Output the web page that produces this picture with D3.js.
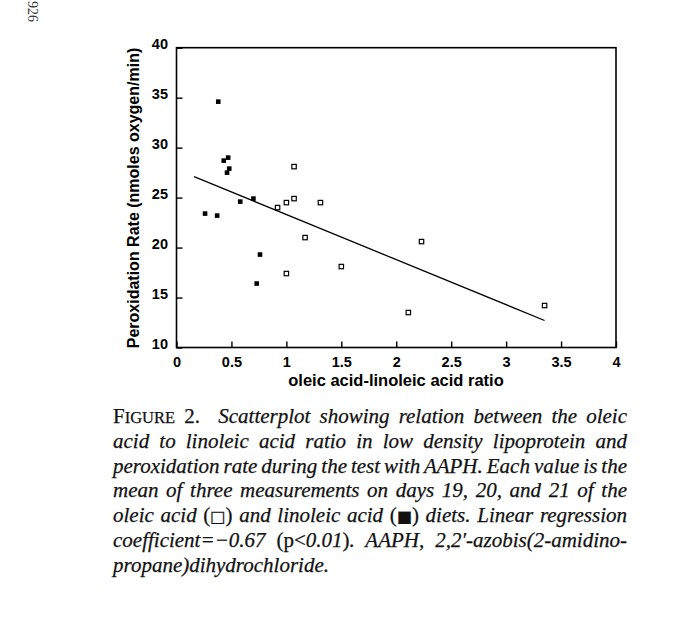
<!DOCTYPE html>
<html>
<head>
<meta charset="utf-8">
<script src="https://cdn.jsdelivr.net/npm/d3@7"></script>
<style>
  html, body { margin: 0; padding: 0; background: #fff; }
  svg { display: block; }
</style>
</head>
<body>
<div class="canvas"></div>
<script>
// data
const linoleicX = [0.38, 0.43, 0.47, 0.46, 0.48, 0.58, 0.70, 0.26, 0.37, 0.76, 0.73];
const linoleicY = [34.6, 28.7, 29.0, 27.5, 27.9, 24.6, 24.9, 23.4, 23.2, 19.3, 16.4];
const oleicX = [1.07, 1.07, 1.00, 0.92, 1.31, 1.17, 1.50, 1.00, 2.23, 2.11, 3.35];
const oleicY = [28.1, 24.9, 24.5, 24.0, 24.5, 21.0, 18.1, 17.4, 20.6, 13.5, 14.2];
// regression line end points
const fitX = [0.16, 3.35];
const fitY = [27.1, 12.7];

const xTicks = [0, 0.5, 1, 1.5, 2, 2.5, 3, 3.5, 4];
const yTicks = [10, 15, 20, 25, 30, 35, 40];

const xTitle = "oleic acid-linoleic acid ratio";
const yTitle = "Peroxidation Rate (nmoles oxygen/min)";

// caption, line by line: [text, style] pieces
const caption = [
  [["F", "sc1"], ["IGURE", "sc2"], [" 2.", "up"], ["  Scatterplot showing relation between the oleic", "it"]],
  [["acid to linoleic acid ratio in low density lipoprotein and", "it"]],
  [["peroxidation rate during the test with AAPH. Each value is the", "it"]],
  [["mean of three measurements on days 19, 20, and 21 of the", "it"]],
  [["oleic acid ", "it"], ["(", "up"], ["\u25A1", "sym"], [")", "up"], [" and linoleic acid ", "it"], ["(", "up"], ["\u25A0", "sym"], [")", "up"], [" diets. Linear regression", "it"]],
  [["coefficient=\u22120.67 ", "it"], ["(p<", "up"], ["0.01", "it"], [")", "up"], [". AAPH, 2,2\u2032-azobis(2-amidino-", "it"]],
  [["propane)dihydrochloride.", "it"]]
];

const width = 680;
const height = 621;
const mLeft = 176.5, mRight = 616, mTop = 47.7, mBottom = 347.5;

const svg = d3.select(".canvas").append("svg")
  .attr("width", width)
  .attr("height", height);

const x = d3.scaleLinear().domain([0, 4]).range([mLeft, mRight]);
const y = d3.scaleLinear().domain([10, 40]).range([mBottom, mTop]);

const axisFont = "'Liberation Sans', Arial, sans-serif";

// frame
svg.append("rect")
  .attr("x", mLeft).attr("y", mTop)
  .attr("width", mRight - mLeft).attr("height", mBottom - mTop)
  .attr("fill", "none")
  .attr("stroke", "#000")
  .attr("stroke-width", 1.6);

// axes, ticks pointing inward
const gx = svg.append("g")
  .attr("transform", `translate(0, ${mBottom})`)
  .call(d3.axisBottom(x).tickValues(xTicks).tickSizeInner(-6).tickSizeOuter(0).tickPadding(9)
    .tickFormat(d => String(d)));
gx.select(".domain").remove();

const gy = svg.append("g")
  .attr("transform", `translate(${mLeft}, 0)`)
  .call(d3.axisLeft(y).tickValues(yTicks).tickSizeInner(-6).tickSizeOuter(0).tickPadding(8.5));
gy.select(".domain").remove();
gy.selectAll("text").attr("y", -4);

svg.selectAll(".tick line").attr("stroke", "#000").attr("stroke-width", 1.4);
svg.selectAll(".tick text")
  .attr("fill", "#000")
  .style("font-family", axisFont)
  .style("font-weight", "bold")
  .style("font-size", "14.5px");

// axis titles
svg.append("text")
  .attr("x", 396).attr("y", 386)
  .attr("text-anchor", "middle")
  .style("font-family", axisFont)
  .style("font-weight", "bold")
  .style("font-size", "16.5px")
  .text(xTitle);

svg.append("text")
  .attr("transform", "translate(139, 198) rotate(-90)")
  .attr("text-anchor", "middle")
  .style("font-family", axisFont)
  .style("font-weight", "bold")
  .style("font-size", "16px")
  .text(yTitle);

// regression line
svg.append("path")
  .datum(d3.zip(fitX, fitY))
  .attr("d", d3.line().x(d => x(d[0])).y(d => y(d[1])))
  .attr("fill", "none")
  .attr("stroke", "#000")
  .attr("stroke-width", 1.3);

// linoleic acid diet: filled squares
const s1 = 4.6;
svg.append("g").selectAll("rect")
  .data(d3.zip(linoleicX, linoleicY))
  .join("rect")
    .attr("x", d => x(d[0]) - s1 / 2)
    .attr("y", d => y(d[1]) - s1 / 2)
    .attr("width", s1).attr("height", s1)
    .attr("fill", "#000");

// oleic acid diet: open squares
const s2 = 4.4;
svg.append("g").selectAll("rect")
  .data(d3.zip(oleicX, oleicY))
  .join("rect")
    .attr("x", d => x(d[0]) - s2 / 2)
    .attr("y", d => y(d[1]) - s2 / 2)
    .attr("width", s2).attr("height", s2)
    .attr("fill", "#fff")
    .attr("stroke", "#000")
    .attr("stroke-width", 1.2);

// page number in the corner
svg.append("text")
  .attr("transform", "translate(28, 1) rotate(90)")
  .style("font-family", "'Liberation Serif', serif")
  .style("font-size", "14px")
  .attr("fill", "#333")
  .text("926");

// caption, justified
const capLeft = 113, capRight = 627, capTop = 423.3, capStep = 24.7;
const styles = {
  it:  { style: "italic", size: 21, family: "'Liberation Serif', serif" },
  up:  { style: "normal", size: 21, family: "'Liberation Serif', serif" },
  sc1: { style: "normal", size: 21, family: "'Liberation Serif', serif" },
  sc2: { style: "normal", size: 16.5, family: "'Liberation Serif', serif" },
  sym: { style: "normal", size: 16, family: "'DejaVu Sans', sans-serif" }
};

caption.forEach((line, i) => {
  const t = svg.append("text")
    .attr("x", capLeft)
    .attr("y", capTop + i * capStep)
    .style("white-space", "pre")
    .attr("fill", "#111")
    .attr("stroke", "#111")
    .attr("stroke-width", 0.25);
  line.forEach(([txt, st]) => {
    const s = styles[st];
    t.append("tspan")
      .style("font-family", s.family)
      .style("font-style", s.style)
      .style("font-size", s.size + "px")
      .text(txt);
  });
  if (i < caption.length - 1) {
    const full = line.map(p => p[0]).join("");
    const spaces = (full.match(/ /g) || []).length;
    const natural = t.node().getComputedTextLength();
    if (spaces > 0) t.style("word-spacing", ((capRight - capLeft - natural) / spaces) + "px");
  }
});
</script>
</body>
</html>
